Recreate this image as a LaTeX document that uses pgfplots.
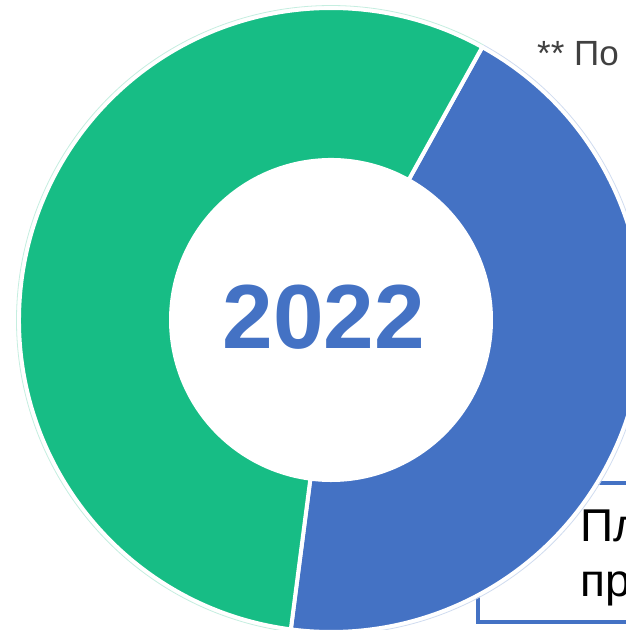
\documentclass[border=0pt]{standalone}
\usepackage{pgfplots}
\pgfplotsset{compat=1.18}
\usepackage{pgfplotstable}
\usepackage{fontspec}
\setmainfont{Liberation Sans}
\definecolor{donutblue}{HTML}{4472C4}
\definecolor{donutgreen}{HTML}{17BD85}
\definecolor{notegray}{HTML}{404040}

% share of each segment (percent), drawn clockwise from the start angle
\pgfplotstableread{
share color
44 donutblue
56 donutgreen
}\sharetable

\begin{document}
\begin{tikzpicture}
\useasboundingbox (0,0) rectangle (626pt,630pt);
\begin{axis}[
  x=1pt, y=1pt,
  xmin=0, xmax=626, ymin=0, ymax=630,
  hide axis, clip=true,
]
% framed note box, partly under the ring
\draw[donutblue, line width=4pt, fill=white] (axis cs:478,8) rectangle (axis cs:720,147);
\node[anchor=base west, font=\fontsize{46}{55}\selectfont, inner sep=0pt] at (axis cs:580,88) {Плановые};
\node[anchor=base west, font=\fontsize{46}{55}\selectfont, inner sep=0pt] at (axis cs:580,33) {прогнозы};
\node[anchor=base west, font=\fontsize{35}{40}\selectfont, text=notegray, inner sep=0pt] at (axis cs:537,564) {** По данным};

\pgfplotsextra{
  \pgfplotstablegetrowsof{\sharetable}
  \pgfmathtruncatemacro\lastrow{\pgfplotsretval-1}
  \def\cur{61}
  \begin{scope}[shift={(axis cs:331,310)}]
  \pgfplotsforeachungrouped \i in {0,...,\lastrow} {
    \pgfplotstablegetelem{\i}{share}\of\sharetable \let\v\pgfplotsretval
    \pgfplotstablegetelem{\i}{color}\of\sharetable \let\c\pgfplotsretval
    \pgfmathsetmacro\nxt{\cur-3.6*\v}
    \edef\seg{\noexpand\filldraw[fill=\c, draw=white, line width=4pt, line join=round]
      (\cur:312pt) arc[start angle=\cur, end angle=\nxt, radius=312pt]
      -- (\nxt:160pt) arc[start angle=\nxt, end angle=\cur, radius=160pt] -- cycle;}
    \seg
    \edef\seg{\noexpand\draw[\c!25, line width=0.8pt]
      (\cur:314.5pt) arc[start angle=\cur, end angle=\nxt, radius=314.5pt];}
    \seg
    \let\cur\nxt
  }
  \end{scope}
}
\node[text=donutblue, font=\bfseries\fontsize{91}{100}\selectfont, inner sep=0pt] at (axis cs:324,313) {2022};
\end{axis}
\end{tikzpicture}
\end{document}
